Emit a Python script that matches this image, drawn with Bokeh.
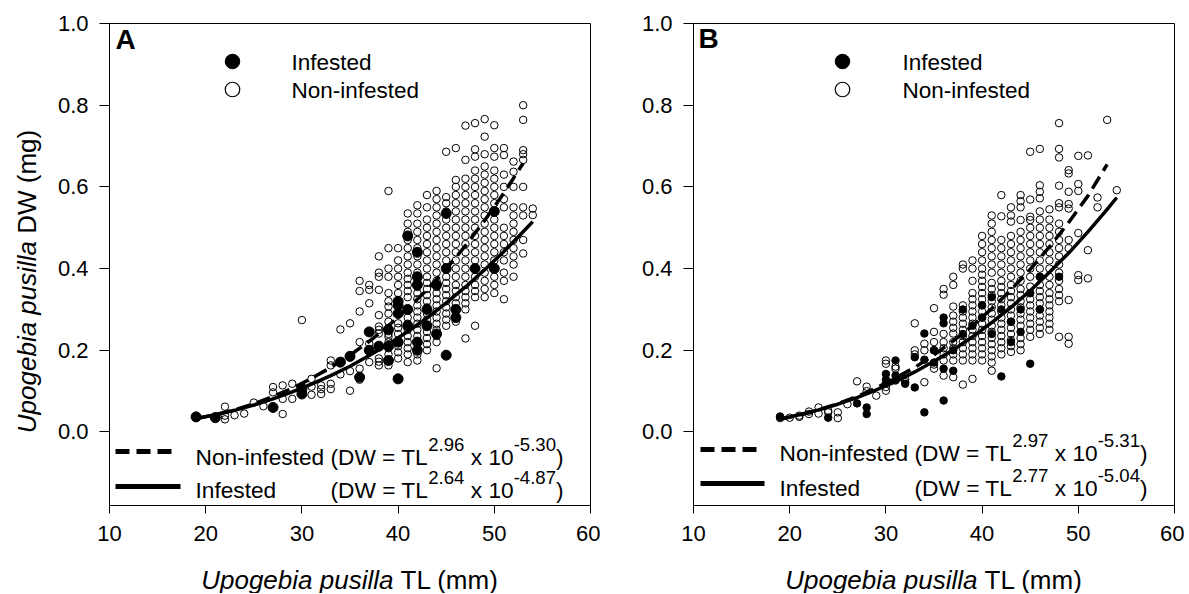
import numpy as np
from bokeh.plotting import figure
from bokeh.models import Range1d, FixedTicker, Label, PrintfTickFormatter
from bokeh.layouts import row, column
from bokeh.embed import file_html
from bokeh.resources import INLINE

# ---------------- data ----------------
x_ticks = [10, 20, 30, 40, 50, 60]
y_ticks = [0.0, 0.2, 0.4, 0.6, 0.8, 1.0]
x_title = ("Upogebia pusilla", " TL (mm)")
y_title = ("Upogebia pusilla", " DW (mg)")
legend_names = ["Infested", "Non-infested"]

# Panel A - non-infested (open circles), grouped by TL column
a_non_tl = [19, 21, 22, 23, 24, 25, 26, 27, 28, 29, 30, 31, 32, 33, 34, 35, 36, 37,
            38, 39, 40, 41, 42, 43, 44, 45, 46, 47, 48, 49, 50, 51, 52, 53, 54]
a_non_dw = [
    [0.035], [0.038], [0.031, 0.04, 0.062], [0.041], [0.045], [0.072], [0.063],
    [0.097, 0.11], [0.044, 0.081, 0.114], [0.081, 0.118], [0.1, 0.11, 0.274],
    [0.091, 0.111, 0.13], [0.093, 0.105, 0.114], [0.105, 0.118, 0.163, 0.175],
    [0.141, 0.251], [0.101, 0.149, 0.188, 0.266],
    [0.128, 0.155, 0.22, 0.295, 0.345, 0.37],
    [0.171, 0.2, 0.216, 0.315, 0.348, 0.36],
    [0.163, 0.172, 0.18, 0.241, 0.25, 0.258, 0.286, 0.348, 0.38, 0.39, 0.43],
    [0.163, 0.175, 0.19, 0.205, 0.22, 0.233, 0.24, 0.255, 0.27, 0.29, 0.307, 0.32,
     0.34, 0.38, 0.4, 0.45, 0.59],
    [0.18, 0.195, 0.21, 0.225, 0.24, 0.255, 0.266, 0.34, 0.36, 0.38, 0.4, 0.42, 0.45],
    [0.171, 0.19, 0.205, 0.22, 0.235, 0.25, 0.265, 0.28, 0.33, 0.345, 0.36, 0.375,
     0.39, 0.41, 0.43, 0.45, 0.47, 0.49, 0.51, 0.535],
    [0.175, 0.19, 0.205, 0.22, 0.235, 0.25, 0.265, 0.28, 0.295, 0.31, 0.325, 0.34,
     0.355, 0.37, 0.39, 0.41, 0.43, 0.45, 0.47, 0.49, 0.51, 0.535, 0.555],
    [0.2, 0.215, 0.23, 0.245, 0.26, 0.275, 0.29, 0.305, 0.32, 0.335, 0.35, 0.365,
     0.38, 0.4, 0.42, 0.44, 0.46, 0.48, 0.5, 0.52, 0.55, 0.58],
    [0.156, 0.22, 0.235, 0.25, 0.265, 0.28, 0.295, 0.31, 0.325, 0.34, 0.355, 0.37,
     0.39, 0.41, 0.43, 0.45, 0.47, 0.49, 0.51, 0.53, 0.55, 0.57, 0.59],
    [0.26, 0.275, 0.29, 0.305, 0.32, 0.335, 0.35, 0.365, 0.38, 0.4, 0.42, 0.44,
     0.46, 0.48, 0.5, 0.52, 0.54, 0.56, 0.575, 0.686],
    [0.27, 0.285, 0.3, 0.315, 0.33, 0.345, 0.36, 0.38, 0.4, 0.42, 0.44, 0.46, 0.48,
     0.5, 0.52, 0.54, 0.56, 0.58, 0.6, 0.617, 0.695],
    [0.229, 0.3, 0.315, 0.33, 0.345, 0.36, 0.38, 0.4, 0.42, 0.44, 0.46, 0.48, 0.5,
     0.52, 0.54, 0.56, 0.58, 0.6, 0.62, 0.666, 0.75],
    [0.26, 0.33, 0.345, 0.36, 0.38, 0.4, 0.42, 0.44, 0.46, 0.48, 0.5, 0.52, 0.54,
     0.56, 0.58, 0.6, 0.62, 0.64, 0.674, 0.692, 0.756],
    [0.33, 0.35, 0.37, 0.39, 0.41, 0.43, 0.45, 0.47, 0.49, 0.51, 0.53, 0.55, 0.57,
     0.59, 0.61, 0.63, 0.65, 0.68, 0.723, 0.766],
    [0.34, 0.36, 0.38, 0.42, 0.44, 0.46, 0.48, 0.5, 0.52, 0.56, 0.58, 0.6, 0.62,
     0.64, 0.674, 0.695, 0.751],
    [0.325, 0.37, 0.39, 0.42, 0.44, 0.46, 0.48, 0.5, 0.55, 0.57, 0.6, 0.63, 0.678, 0.695],
    [0.38, 0.41, 0.43, 0.45, 0.47, 0.49, 0.51, 0.53, 0.55, 0.6, 0.637, 0.662],
    [0.437, 0.47, 0.53, 0.55, 0.6, 0.666, 0.68, 0.69, 0.764, 0.8],
    [0.531, 0.547],
]
# Panel A - infested (filled circles)
a_inf_tl = [19, 21, 27, 30, 30, 34, 35, 36, 37, 37, 38, 39, 39, 39, 40, 40, 40, 40,
            40, 41, 41, 41, 42, 42, 42, 42, 42, 43, 43, 44, 44, 45, 45, 45, 46, 46,
            48, 50, 50]
a_inf_dw = [0.037, 0.035, 0.06, 0.093, 0.105, 0.171, 0.185, 0.134, 0.245, 0.2,
            0.21, 0.175, 0.21, 0.25, 0.13, 0.22, 0.29, 0.31, 0.32, 0.26, 0.3, 0.48,
            0.2, 0.22, 0.36, 0.38, 0.44, 0.26, 0.3, 0.24, 0.36, 0.188, 0.4, 0.535,
            0.28, 0.3, 0.4, 0.4, 0.54]

# Panel B - non-infested (open circles)
b_non_tl = [19, 20, 21, 22, 23, 24, 25, 26, 27, 28, 29, 30, 31, 32, 33, 34, 35, 36,
            37, 38, 39, 40, 41, 42, 43, 44, 45, 46, 47, 48, 49, 50, 51, 52, 53, 54]
b_non_dw = [
    [0.034, 0.038], [0.035], [0.037, 0.04], [0.044, 0.05], [0.045, 0.06],
    [0.048, 0.052], [0.034, 0.048], [0.068], [0.124], [0.1, 0.111], [0.089],
    [0.101, 0.11, 0.167, 0.175], [0.126, 0.155, 0.16], [0.122, 0.13],
    [0.19, 0.2, 0.266], [0.122, 0.2, 0.216],
    [0.155, 0.165, 0.2, 0.22, 0.245, 0.303],
    [0.138, 0.175, 0.19, 0.205, 0.22, 0.24, 0.336, 0.35],
    [0.134, 0.175, 0.19, 0.205, 0.22, 0.241, 0.255, 0.27, 0.285, 0.307, 0.36, 0.38],
    [0.116, 0.175, 0.19, 0.205, 0.22, 0.235, 0.25, 0.265, 0.28, 0.295, 0.31, 0.4, 0.41],
    [0.13, 0.175, 0.19, 0.205, 0.22, 0.235, 0.25, 0.265, 0.28, 0.295, 0.31, 0.325,
     0.34, 0.37, 0.4, 0.42],
    [0.175, 0.19, 0.205, 0.22, 0.235, 0.25, 0.265, 0.28, 0.295, 0.31, 0.325, 0.34,
     0.355, 0.37, 0.385, 0.4, 0.42, 0.44, 0.46, 0.48],
    [0.15, 0.17, 0.185, 0.2, 0.215, 0.23, 0.245, 0.26, 0.275, 0.29, 0.305, 0.32,
     0.335, 0.35, 0.365, 0.39, 0.41, 0.43, 0.45, 0.47, 0.49, 0.51, 0.53],
    [0.19, 0.205, 0.22, 0.235, 0.25, 0.265, 0.28, 0.295, 0.31, 0.325, 0.34, 0.355,
     0.37, 0.39, 0.41, 0.43, 0.45, 0.47, 0.528, 0.58],
    [0.196, 0.21, 0.225, 0.24, 0.255, 0.27, 0.285, 0.3, 0.315, 0.33, 0.345, 0.36,
     0.38, 0.4, 0.42, 0.44, 0.46, 0.48, 0.515, 0.53, 0.55],
    [0.2, 0.215, 0.23, 0.26, 0.275, 0.29, 0.305, 0.32, 0.335, 0.35, 0.37, 0.39,
     0.41, 0.43, 0.45, 0.47, 0.49, 0.519, 0.55, 0.565, 0.58],
    [0.233, 0.25, 0.265, 0.28, 0.295, 0.31, 0.325, 0.34, 0.356, 0.38, 0.4, 0.42,
     0.44, 0.46, 0.48, 0.5, 0.519, 0.527, 0.569, 0.686],
    [0.24, 0.255, 0.27, 0.285, 0.3, 0.315, 0.33, 0.345, 0.36, 0.38, 0.4, 0.42, 0.44,
     0.46, 0.48, 0.5, 0.52, 0.54, 0.572, 0.588, 0.604, 0.693],
    [0.25, 0.265, 0.28, 0.295, 0.31, 0.325, 0.34, 0.36, 0.38, 0.4, 0.42, 0.44,
     0.46, 0.48, 0.5, 0.52, 0.545],
    [0.233, 0.32, 0.335, 0.35, 0.37, 0.39, 0.41, 0.43, 0.45, 0.47, 0.49, 0.51,
     0.55, 0.56, 0.603, 0.672, 0.693, 0.756],
    [0.216, 0.233, 0.323, 0.45, 0.47, 0.547, 0.558, 0.588, 0.633, 0.641],
    [0.372, 0.384, 0.487, 0.59, 0.607, 0.676],
    [0.376, 0.445, 0.677],
    [0.55, 0.574],
    [0.764],
    [0.592],
]
# Panel B - infested (filled circles)
b_inf_tl = [19, 24, 27, 28, 28, 30, 30, 30, 31, 31, 31, 32, 33, 33, 34, 34, 34, 35,
            35, 36, 36, 36, 36, 37, 37, 38, 38, 39, 40, 40, 41, 41, 42, 42, 43, 43,
            44, 44, 45, 45, 46, 46, 48]
b_inf_dw = [0.037, 0.035, 0.07, 0.06, 0.044, 0.142, 0.128, 0.12, 0.175, 0.138,
            0.128, 0.118, 0.109, 0.183, 0.241, 0.177, 0.048, 0.17, 0.2, 0.28, 0.266,
            0.155, 0.077, 0.15, 0.2, 0.24, 0.3, 0.26, 0.31, 0.28, 0.33, 0.24, 0.136,
            0.3, 0.22, 0.27, 0.245, 0.3, 0.167, 0.34, 0.3, 0.38, 0.38]

# fitted curves
curve_tl = [19, 21, 23, 25, 27, 29, 31, 33, 35, 37, 39, 41, 43, 45, 47, 49, 51, 53]
curve_tl_inf = curve_tl + [54]
a_non_curve = [0.033, 0.042, 0.054, 0.069, 0.087, 0.107, 0.131, 0.158, 0.188, 0.222,
               0.26, 0.302, 0.348, 0.399, 0.456, 0.518, 0.585, 0.658]
a_inf_curve = [0.033, 0.042, 0.053, 0.066, 0.081, 0.098, 0.117, 0.138, 0.161, 0.187,
               0.215, 0.246, 0.279, 0.316, 0.355, 0.397, 0.442, 0.49, 0.515]
b_non_curve = [0.031, 0.041, 0.054, 0.069, 0.087, 0.108, 0.132, 0.158, 0.189, 0.223,
               0.26, 0.302, 0.348, 0.398, 0.453, 0.513, 0.578, 0.655]
b_inf_curve = [0.032, 0.042, 0.054, 0.068, 0.084, 0.103, 0.123, 0.147, 0.173, 0.201,
               0.233, 0.268, 0.305, 0.346, 0.391, 0.438, 0.49, 0.545, 0.574]

# equation exponents
eq_a = [("2.96", "-5.30"), ("2.64", "-4.87")]
eq_b = [("2.97", "-5.31"), ("2.77", "-5.04")]

# ---------------- layout / style ----------------
FONT = "Liberation Sans"
FW, FH = 481, 482
XR = (10, 60)
YR = (-0.18, 1.0)
TOP = 23           # frame top (page px)
YT_W = 45          # width of the strip holding the y title
PANEL_H = 550      # height of each panel canvas
XT_H = 43          # height of the strip holding the x titles
TS = 26            # axis title font size
MS, SS, RAISE = 22.7, 18.6, 12   # legend font, superscript font, raise

WID = {' ': 278, '(': 333, ')': 333, '-': 333, '.': 278, '=': 584, 'D': 722,
       'I': 278, 'L': 556, 'N': 722, 'T': 611, 'W': 944, 'x': 500, 'd': 556,
       'e': 556, 'f': 278, 'i': 222, 'n': 556, 'o': 556, 's': 500, 't': 278,
       'U': 722, 'p': 556, 'g': 556, 'b': 556, 'a': 556, 'u': 556, 'l': 222,
       'm': 833, 'M': 833}


def tw(s, size):
    return sum(WID.get(c, 556) for c in s) * size / 1000.0


def make_label(x, y, text, size, style="normal", baseline="alphabetic", angle=0.0):
    return Label(x=x, y=y, text=text, text_font=FONT, text_font_size=f"{size}px",
                 text_font_style=style, text_align="left", text_baseline=baseline,
                 angle=angle, text_color="black")


def make_panel(letter, left_px, non_tl, non_dw, inf_tl, inf_dw, inf_size,
               non_curve, inf_curve, eqs, g, bl, br):
    p = figure(frame_width=FW, frame_height=FH,
               x_range=Range1d(*XR), y_range=Range1d(*YR),
               min_border_left=bl, min_border_right=br,
               min_border_top=TOP, min_border_bottom=PANEL_H - TOP - FH,
               output_backend="svg", toolbar_location=None)
    p.background_fill_color = "white"
    p.border_fill_color = "white"
    p.outline_line_color = "black"
    p.outline_line_width = 1
    p.xgrid.visible = False
    p.ygrid.visible = False

    for ax in (p.xaxis[0], p.yaxis[0]):
        ax.axis_line_color = "black"
        ax.major_tick_line_color = "black"
        ax.minor_tick_line_color = None
        ax.major_tick_in = 0
        ax.major_label_text_font = FONT
        ax.major_label_text_font_size = "22px"
        ax.major_label_text_color = "black"
    p.xaxis.ticker = FixedTicker(ticks=x_ticks)
    p.yaxis.ticker = FixedTicker(ticks=y_ticks)
    p.yaxis.formatter = PrintfTickFormatter(format="%.1f")
    p.xaxis.major_tick_out = 8
    p.yaxis.major_tick_out = 10
    p.xaxis.major_label_standoff = 12
    p.yaxis.major_label_standoff = 11

    def X(px):
        return XR[0] + (px - left_px) * (XR[1] - XR[0]) / FW

    def Y(py):
        return YR[1] - (py - TOP) * (YR[1] - YR[0]) / FH

    def lab(px, py, text, size, style="normal"):
        # SVG text drops leading blanks: move the start instead
        n = len(text) - len(text.lstrip(" "))
        px += tw(" " * n, size)
        p.add_layout(make_label(X(px), Y(py), text.lstrip(" "), size, style))

    # scatter points
    xs = [t for t, col in zip(non_tl, non_dw) for _ in col]
    ys = [v for col in non_dw for v in col]
    p.scatter(xs, ys, size=7.5, marker="circle", fill_color=None,
              line_color="black", line_width=1)
    p.scatter(inf_tl, inf_dw, size=inf_size, marker="circle",
              fill_color="black", line_color="black", line_width=1)

    # fitted curves
    p.line(curve_tl, non_curve, line_width=3.5, line_color="black",
           line_dash="14 7")
    p.line(curve_tl_inf, inf_curve, line_width=3.5, line_color="black")

    # panel letter
    lab(g["let_x"], g["let_y"], letter, 28, style="bold")

    # top legend
    p.scatter([X(g["mk_x"])], [Y(61)], size=14.5, marker="circle",
              fill_color="black", line_color="black")
    p.scatter([X(g["mk_x"])], [Y(89)], size=14.5, marker="circle",
              fill_color="white", line_color="black", line_width=1.2)
    lab(g["tx_x"], 62, legend_names[0], 22.5)
    lab(g["tx_x"], 90, legend_names[1], 22.5)

    # bottom legend lines
    p.line([X(g["l0"]), X(g["l1"])], [Y(g["ly1"])] * 2, line_width=5,
           line_color="black", line_dash="14 7")
    p.line([X(g["l0"]), X(g["l2"])], [Y(g["ly2"])] * 2, line_width=5,
           line_color="black")

    x0 = g["t0"]
    pieces1 = [("Non-infested (DW = TL", MS, 0), (eqs[0][0], SS, RAISE),
               (" x 10", MS, 0), (eqs[0][1], SS, RAISE), (")", MS, 0)]
    cx = x0
    for txt, sz, r in pieces1:
        lab(cx, g["r1"] - r, txt, sz)
        cx += tw(txt, sz)
    lab(x0, g["r2"], "Infested", MS)
    cx = x0 + tw("Non-infested ", MS)
    pieces2 = [("(DW = TL", MS, 0), (eqs[1][0], SS, RAISE), (" x 10", MS, 0),
               (eqs[1][1], SS, RAISE), (")", MS, 0)]
    for txt, sz, r in pieces2:
        lab(cx, g["r2"] - r, txt, sz)
        cx += tw(txt, sz)
    return p


def strip(w, h):
    s = figure(frame_width=w, frame_height=h, x_range=Range1d(0, w),
               y_range=Range1d(0, h), x_axis_type=None, y_axis_type=None,
               min_border=0, min_border_left=0, min_border_right=0,
               min_border_top=0, min_border_bottom=0,
               output_backend="svg", toolbar_location=None)
    s.outline_line_color = None
    s.background_fill_color = "white"
    s.border_fill_color = "white"
    return s


geo_a = dict(let_x=115, let_y=39, mk_x=232, tx_x=291, l0=115, l1=172, l2=180,
             ly1=451, ly2=486, t0=195, r1=456, r2=489)
geo_b = dict(let_x=698, let_y=38, mk_x=842, tx_x=902, l0=700, l1=757, l2=764,
             ly1=449, ly2=483, t0=779, r1=452, r2=487)

pA = make_panel("A", 109, a_non_tl, a_non_dw, a_inf_tl, a_inf_dw, 10,
                a_non_curve, a_inf_curve, eq_a, geo_a, 109 - YT_W, 10)
pB = make_panel("B", 693, b_non_tl, b_non_dw, b_inf_tl, b_inf_dw, 7.5,
                b_non_curve, b_inf_curve, eq_b, geo_b, 93, 10)

# y title strip (left of panel A)
ys_fig = strip(YT_W, PANEL_H)
cym = TOP + FH / 2.0 - 6
tot = tw(y_title[0], TS) + tw(y_title[1], TS)
start_py = cym + tot / 2.0
ys_fig.add_layout(make_label(26, PANEL_H - start_py, y_title[0], TS, "italic",
                             "middle", np.pi / 2))
ys_fig.add_layout(make_label(26, PANEL_H - (start_py - tw(y_title[0] + " ", TS)),
                             y_title[1].lstrip(), TS, "normal", "middle", np.pi / 2))

# x title strip (below both panels)
TOTAL_W = YT_W + (109 - YT_W) + FW + 10 + 93 + FW + 10
xs_fig = strip(TOTAL_W, XT_H)
base_local = (PANEL_H + XT_H) - 579
for left in (109, 693):
    cxm = left + FW / 2.0
    tot = tw(x_title[0], TS) + tw(x_title[1], TS)
    sx = cxm - tot / 2.0
    xs_fig.add_layout(make_label(sx, base_local, x_title[0], TS, "italic"))
    xs_fig.add_layout(make_label(sx + tw(x_title[0] + " ", TS), base_local,
                                 x_title[1].lstrip(), TS))

layout = column(row(ys_fig, pA, pB), xs_fig)
open("out.html", "w").write(file_html(layout, INLINE))
